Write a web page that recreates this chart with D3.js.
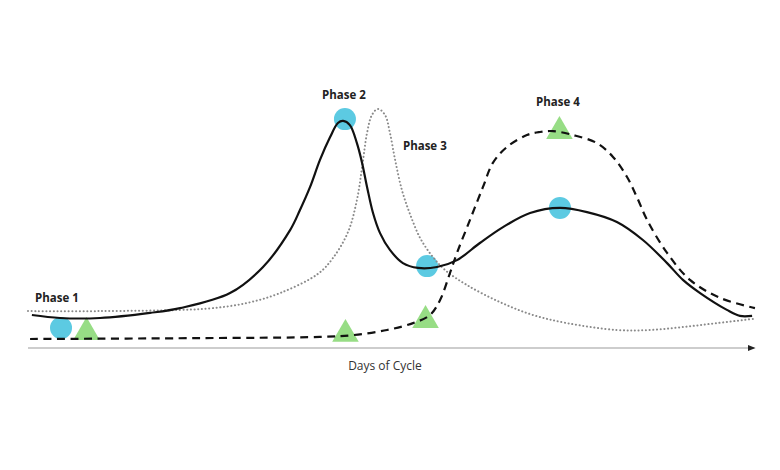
<!DOCTYPE html>
<html>
<head>
<meta charset="utf-8">
<script src="https://cdn.jsdelivr.net/npm/d3@7"></script>
<style>
  body { margin: 0; background: #fff; }
  text { font-family: "Open Sans", sans-serif; }
</style>
</head>
<body>
<div id="chart"></div>
<script>
// Hormone levels (x = day of cycle, y = relative level)
const solidDays = [0.15, 1.23, 2.77, 4.69, 5.85, 7.77, 9.04, 10.08, 10.46, 10.85, 11.23, 11.62, 11.92, 12.12, 12.38, 12.65, 12.85, 13.04, 13.27, 13.54, 13.92, 14.42, 15, 15.73, 16.5, 17.38, 18.27, 19.31, 20.46, 21.5, 22.65, 23.65, 24.58, 25.19, 25.85, 26.88, 27.38, 27.85];
const solidLevels = [11, 10, 10, 11.7, 13.3, 18.3, 27, 39.3, 46, 53.7, 62.7, 70.3, 75, 75.7, 74.3, 68.3, 61.7, 53.7, 45, 38.3, 32.7, 28.3, 26.7, 27, 29.3, 35, 40.3, 45, 46.7, 45.3, 42, 36, 28.3, 22.7, 18.3, 12.7, 10.7, 10.7];

const dottedDays = [0, 2.77, 5.85, 7.12, 8.42, 9.69, 11.15, 11.73, 12.31, 12.65, 12.85, 13.04, 13.23, 13.46, 13.73, 13.92, 14.12, 14.38, 14.69, 15.08, 15.54, 16.04, 16.88, 18.15, 19.42, 20.73, 22.65, 23.92, 25.19, 26.5, 27.88];
const dottedLevels = [12.3, 12.3, 12.7, 13.3, 15, 18.3, 24.7, 30, 38.7, 49.3, 60.3, 71.7, 77.7, 79.7, 77.7, 71.7, 62.7, 52.7, 44.7, 36.7, 30.7, 26, 21, 15.3, 11, 8.3, 6, 6, 7, 8.3, 9.7];

const dashedDays = [0.08, 6.62, 11.23, 12.5, 13.81, 14.81, 15.46, 15.85, 16.23, 16.5, 17, 17.5, 17.88, 18.42, 19.19, 19.69, 20.19, 20.96, 21.88, 22.5, 23.04, 23.42, 23.81, 24.58, 25.46, 26.62, 27.96];
const dashedLevels = [3, 3.3, 3.7, 4.3, 6, 8.3, 11, 16, 25, 31.7, 42.7, 53.7, 61.7, 67, 71, 72, 72.3, 71, 68.3, 63.7, 57, 50.3, 42.7, 31.7, 22.7, 16.7, 13.3];

// Markers
const circleDays = [1.27, 12.19, 15.35, 20.46];
const circleLevels = [6.7, 76.3, 27.3, 46.7];
const triangleDays = [2.25, 12.21, 15.29, 20.44];
const triangleLevels = [5.2, 4.6, 9.2, 72.2];

// Phase labels
const phaseNames = ["Phase 1", "Phase 2", "Phase 3", "Phase 4"];
const phaseDays = [0.27, 12.15, 14.42, 20.38];
const phaseLevels = [15.3, 83, 66, 80.7];
const phaseAnchors = ["start", "middle", "start", "middle"];

const axisTitle = "Days of Cycle";

const W = 780, H = 470;
const x = d3.scaleLinear().domain([0, 28]).range([28, 756]);
const y = d3.scaleLinear().domain([0, 100]).range([348, 48]);

const svg = d3.select("#chart").append("svg")
  .attr("width", W)
  .attr("height", H);

// Arrow marker for the axis
svg.append("defs").append("marker")
  .attr("id", "arrow")
  .attr("viewBox", "0 0 10 10")
  .attr("refX", 8)
  .attr("refY", 5)
  .attr("markerWidth", 5)
  .attr("markerHeight", 5)
  .attr("orient", "auto")
  .append("path")
  .attr("d", "M0,1 L10,5 L0,9 Z")
  .attr("fill", "#222");

// x axis line
svg.append("line")
  .attr("x1", x(0))
  .attr("x2", x(28) - 2)
  .attr("y1", y(0))
  .attr("y2", y(0))
  .attr("stroke", "#bdbdbd")
  .attr("stroke-width", 1.6)
  .attr("marker-end", "url(#arrow)");

svg.append("text")
  .attr("x", x(13.73))
  .attr("y", y(0) + 22)
  .attr("text-anchor", "middle")
  .attr("font-size", 12)
  .attr("fill", "#333")
  .text(axisTitle);

// Markers under the lines
svg.append("g").selectAll("circle")
  .data(circleDays)
  .join("circle")
  .attr("cx", (d) => x(d))
  .attr("cy", (d, i) => y(circleLevels[i]))
  .attr("r", 11)
  .attr("fill", "#5ccae2");

const tri = d3.symbol().type(d3.symbolTriangle).size(305);
svg.append("g").selectAll("path")
  .data(triangleDays)
  .join("path")
  .attr("d", tri)
  .attr("transform", (d, i) => "translate(" + x(d) + "," + y(triangleLevels[i]) + ")")
  .attr("fill", "#97dd85");

const line = (days, levels) =>
  d3.line()
    .x((d) => x(d))
    .y((d, i) => y(levels[i]))
    .curve(d3.curveCatmullRom.alpha(0.5))(days);

svg.append("path")
  .attr("d", line(dottedDays, dottedLevels))
  .attr("fill", "none")
  .attr("stroke", "#8a8a8a")
  .attr("stroke-width", 2)
  .attr("stroke-linecap", "round")
  .attr("stroke-dasharray", "0.1,3.6");

svg.append("path")
  .attr("d", line(dashedDays, dashedLevels))
  .attr("fill", "none")
  .attr("stroke", "#111")
  .attr("stroke-width", 2.2)
  .attr("stroke-dasharray", "8,5.5");

svg.append("path")
  .attr("d", line(solidDays, solidLevels))
  .attr("fill", "none")
  .attr("stroke", "#111")
  .attr("stroke-width", 2.2);

// Phase labels
svg.append("g").selectAll("text")
  .data(phaseNames)
  .join("text")
  .attr("x", (d, i) => x(phaseDays[i]))
  .attr("y", (d, i) => y(phaseLevels[i]))
  .attr("text-anchor", (d, i) => phaseAnchors[i])
  .attr("font-size", 11.5)
  .attr("font-weight", "bold")
  .attr("fill", "#222")
  .text((d) => d);
</script>
</body>
</html>
